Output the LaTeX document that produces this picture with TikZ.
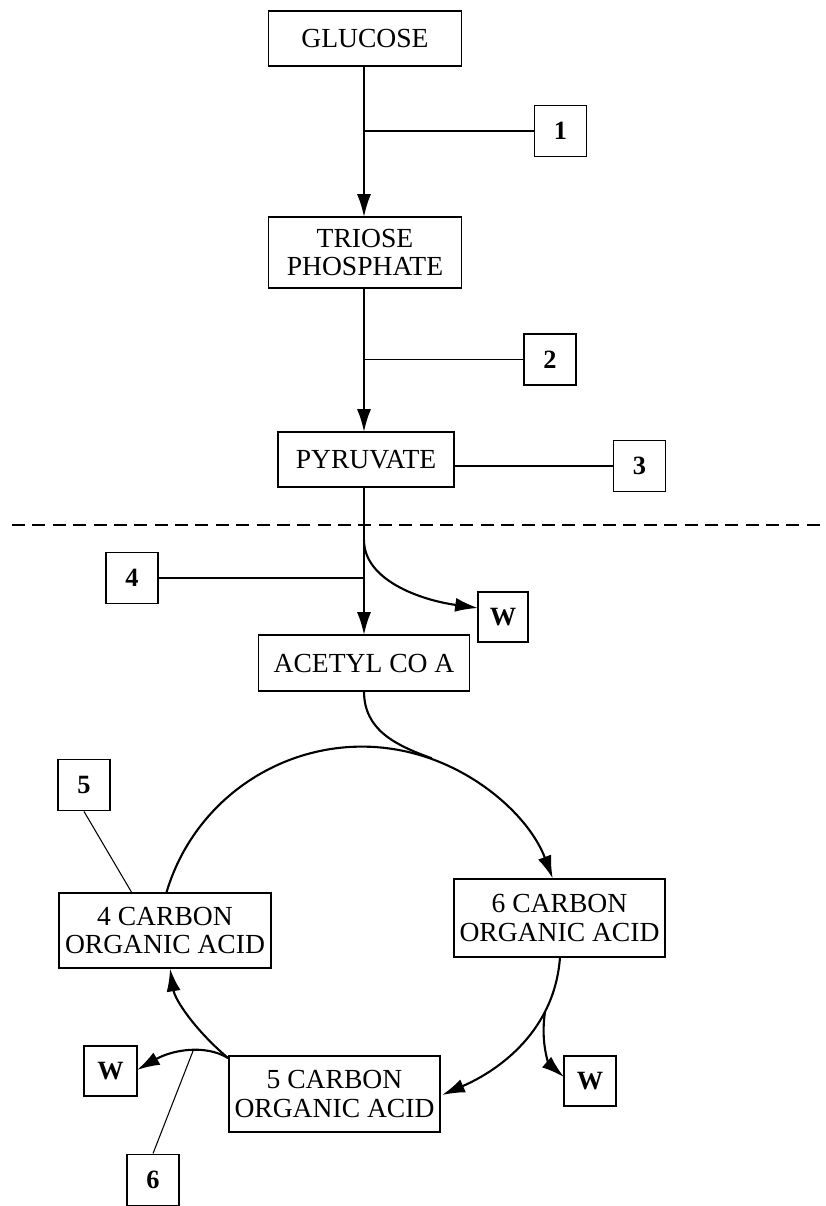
\documentclass[tikz,border=0pt]{standalone}
\usepackage{fontspec}
\setmainfont{Liberation Serif}
\usetikzlibrary{arrows.meta,calc}
\begin{document}
\begin{tikzpicture}[x=0.02cm,y=-0.02cm,
  box/.style={draw,line width=1.1pt,inner sep=0pt,align=center,
    font=\fontsize{15.7}{16}\selectfont},
  numbox/.style={draw,line width=1.1pt,inner sep=0pt,minimum width=1.04cm,
    minimum height=1.02cm,font=\fontsize{15}{16}\selectfont\bfseries},
  flow/.style={line width=1.2pt},
  arr/.style={line width=1.2pt,-{Latex[length=13pt,width=8pt]}},
  thin/.style={line width=0.6pt},
  sep/.style={line width=1pt,dash pattern=on 7.4pt off 4.2pt}]
\useasboundingbox (0,0) rectangle (825,1206);

% main chain
\node[box,minimum width=3.86cm,minimum height=1.10cm] (glucose) at (365,38.5) {GLUCOSE};
\node[box,minimum width=3.86cm,minimum height=1.42cm] (triose) at (365,252.5) {TRIOSE\\PHOSPHATE};
\node[box,minimum width=3.52cm,minimum height=1.10cm] (pyruvate) at (366,459.5) {PYRUVATE};
\node[box,minimum width=4.22cm,minimum height=1.12cm] (acetyl) at (364,663) {ACETYL CO A};
\node[box,minimum width=4.22cm,minimum height=1.56cm] (c6) at (559.5,918) {6 CARBON\\ORGANIC ACID};
\node[box,minimum width=4.24cm,minimum height=1.50cm] (c4) at (165,930.5) {4 CARBON\\ORGANIC ACID};
\node[box,minimum width=4.22cm,minimum height=1.52cm] (c5) at (334.5,1094) {5 CARBON\\ORGANIC ACID};

% number boxes
\node[numbox] (n1) at (560.5,131) {1};
\node[numbox] (n2) at (550,359.5) {2};
\node[numbox] (n3) at (639.5,466) {3};
\node[numbox] (n4) at (132,578) {4};
\node[numbox] (n5) at (84,785) {5};
\node[numbox] (n6) at (153,1180) {6};

% W boxes
\node[numbox,minimum width=1.0cm,minimum height=1.0cm] (w1) at (503,617) {W};
\node[numbox,minimum width=1.04cm,minimum height=1.0cm] (w2) at (590,1081) {W};
\node[numbox,minimum width=1.06cm,minimum height=1.0cm] (w3) at (110.5,1071) {W};

% dashed separator
\coordinate (dl) at (12,525);
\coordinate (dr) at (825,525);
\draw[sep] (dl) -- (dr);

% arrows of main chain
\coordinate (g1) at (364,66);
\coordinate (t1) at (364,217);
\coordinate (t2) at (364,288);
\coordinate (p1) at (364,432);
\coordinate (p2) at (364,487);
\coordinate (a1) at (364,635);
\draw[arr] (g1) -- (t1);
\draw[arr] (t2) -- (p1);
\draw[arr] (p2) -- (a1);

% side lines to numbers
\coordinate (b1) at (364,131);
\coordinate (b2) at (364,359.5);
\coordinate (b4) at (364,578);
\draw[thin] (b1) -- (n1.west);
\draw[thin] (b2) -- (n2.west);
\draw[thin] (n3.west) -- (n3.west -| pyruvate.east);
\draw[thin] (n4.east) -- (b4);

% W branch after pyruvate
\coordinate (wb1) at (364,540);
\coordinate (wt1) at (478,608);
\draw[arr] (wb1) .. controls (364,580) and (420,600) .. (wt1);

% cycle
\coordinate (ac) at (364,691);
\coordinate (join) at (431.8,758.3);
\draw[flow] (ac) .. controls (364,730) and (395,745) .. (join);
\coordinate (c4top) at (166.6,892);
\draw[arr] (c4top) arc[start angle=163.3,end angle=20.7,radius=4.08cm];

\coordinate (c6b) at (560,957);
\coordinate (c5r) at (442,1095);
\draw[arr] (c6b) .. controls (555,1030) and (500,1070) .. (c5r);
\coordinate (wb2) at (545,1012);
\coordinate (wt2) at (564,1077);
\draw[arr] (wb2) .. controls (540,1045) and (550,1065) .. (wt2);

\coordinate (c5l) at (228,1058);
\coordinate (c4b) at (170,968.5);
\draw[arr] (c5l) .. controls (195,1030) and (175,1000) .. (c4b);
\coordinate (wt3) at (137,1070);
\draw[arr] (c5l) .. controls (205,1044) and (172,1050) .. (wt3);

% label lines 5 and 6
\coordinate (l5) at (132,893);
\draw[thin] (n5.south) -- (l5);
\coordinate (l6) at (193,1051);
\draw[thin] (l6) -- (n6.north);
\end{tikzpicture}
\end{document}
